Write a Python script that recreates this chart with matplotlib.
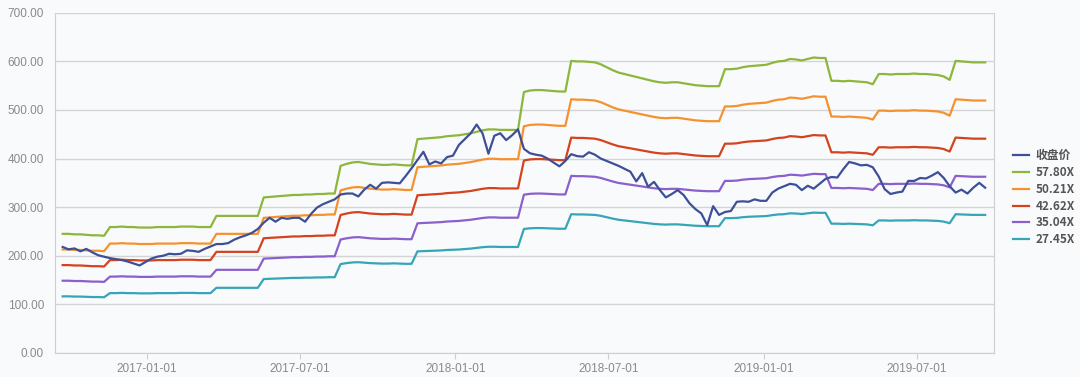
import numpy as np
import pandas as pd
import matplotlib
matplotlib.use("Agg")
import matplotlib.pyplot as plt
import matplotlib.dates as mdates
from matplotlib.ticker import FormatStrFormatter

# weekly closing dates
dates = pd.date_range("2016-09-23", "2019-09-20", freq="7D")

close = [218, 213, 215, 209, 214, 207, 201, 198, 195, 193,
         191, 188, 184, 180, 187, 194, 198, 200, 204, 203,
         204, 211, 210, 208, 214, 219, 224, 224, 226, 233,
         238, 242, 247, 255, 268, 278, 270, 278, 276, 278,
         278, 270, 286, 299, 306, 311, 316, 326, 328, 328,
         322, 336, 346, 338, 350, 351, 350, 349, 364, 380,
         397, 414, 388, 394, 390, 403, 406, 428, 440, 452,
         470, 452, 410, 447, 452, 438, 448, 460, 420, 411,
         408, 406, 400, 392, 384, 395, 409, 405, 404, 413,
         408, 400, 395, 390, 385, 379, 373, 353, 370, 342,
         352, 335, 320, 327, 335, 325, 308, 296, 287, 263,
         302, 284, 290, 292, 311, 312, 311, 316, 313, 313,
         330, 338, 343, 348, 346, 335, 344, 338, 348, 358,
         362, 361, 378, 393, 390, 386, 387, 382, 363, 337,
         327, 330, 332, 354, 354, 360, 359, 365, 372, 360,
         343, 330, 336, 328, 340, 350, 340]

# the 57.80X band
band_top = [245, 245, 244, 244, 243, 242, 242, 241,
            259, 259, 260, 259, 259, 258, 258, 258, 259, 259,
            259, 259, 260, 260, 260, 259, 259, 259,
            282, 282, 282, 282, 282, 282, 282, 282,
            320, 321, 322, 323, 324, 325, 325, 326, 326, 327, 327, 328, 328,
            385, 389, 392, 393, 391, 389, 388, 387, 387, 388, 387, 386, 386,
            440, 441, 442, 443, 444, 446, 447, 448, 450, 452, 455, 458,
            460, 460, 459, 459, 459, 459,
            537, 540, 541, 541, 540, 539, 538, 538,
            601, 600, 600, 599, 598, 594, 588, 582, 577, 574, 571, 568, 565,
            562, 559, 557, 556, 557, 557, 555, 553, 551, 550, 549, 549, 549,
            584, 584, 585, 588, 590, 591, 592, 593, 597, 600, 601, 605, 604,
            602, 605, 608, 607, 607,
            560, 560, 559, 560, 559, 558, 557, 553,
            574, 574, 573, 574, 574, 574, 575, 574, 574, 573, 572, 569, 562,
            601, 600, 599, 598, 598, 598]

multiples = [57.80, 50.21, 42.62, 35.04, 27.45]
band_labels = ["57.80X", "50.21X", "42.62X", "35.04X", "27.45X"]
band_colors = ["#8db63c", "#f5922f", "#d5421e", "#8a60cc", "#37a5b8"]
close_color = "#3d5097"

eps = np.array(band_top) / multiples[0]

bg = "#f9fafc"
fig = plt.figure(figsize=(10.8, 3.77), dpi=100, facecolor=bg)
ax = fig.add_axes([0.051, 0.064, 0.869, 0.902], facecolor=bg)

h_close, = ax.plot(dates, close, color=close_color, lw=1.6, zorder=4, label="收盘价")
handles = [h_close]
for m, lab, c in zip(multiples, band_labels, band_colors):
    h, = ax.plot(dates, eps * m, color=c, lw=1.6, zorder=3, label=lab)
    handles.append(h)

ax.set_xlim(pd.Timestamp("2016-09-14"), pd.Timestamp("2019-09-30"))
ax.set_ylim(0, 700)
ax.set_yticks(np.arange(0, 701, 100))
ax.yaxis.set_major_formatter(FormatStrFormatter("%.2f"))
ax.xaxis.set_major_locator(mdates.MonthLocator(bymonth=[1, 7]))
ax.xaxis.set_major_formatter(mdates.DateFormatter("%Y-%m-%d"))

ax.grid(axis="y", color="#d4d4d4", lw=1)
ax.set_axisbelow(True)
for side in ["left", "right", "bottom"]:
    ax.spines[side].set_color("#cfcfcf")
ax.spines["top"].set_visible(False)

ax.tick_params(axis="y", length=0, pad=8, labelsize=8.5, labelcolor="#8a8a8a")
ax.tick_params(axis="x", length=4, color="#cfcfcf", pad=3, labelsize=8.5, labelcolor="#8a8a8a")
for t in ax.get_xticklabels() + ax.get_yticklabels():
    t.set_family(["Liberation Sans Narrow", "Liberation Sans", "DejaVu Sans"])

leg = fig.legend(handles=handles, loc="upper left", bbox_to_anchor=(0.928, 0.632),
                 frameon=False, handlelength=1.4, handletextpad=0.55, labelspacing=0.32,
                 prop={"family": ["Noto Sans CJK SC", "DejaVu Sans"], "size": 8.5, "weight": "bold"})
for t in leg.get_texts():
    t.set_color("#555555")

fig.savefig("out.png", dpi=100, facecolor=bg)
